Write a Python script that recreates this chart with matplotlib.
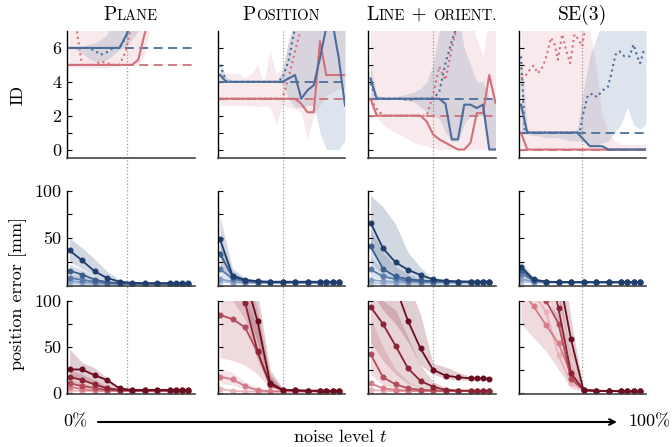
import matplotlib

matplotlib.use('Agg')

from matplotlib import pyplot as plt
from matplotlib import transforms

plt.rcParams['font.family'] = 'cmr10'
plt.rcParams['mathtext.fontset'] = 'cm'
plt.rcParams['axes.formatter.use_mathtext'] = True

##### Data #####
# noise levels used for the ID curves (top row)
t_top = [0.0, 0.05, 0.1, 0.15, 0.2, 0.25, 0.3, 0.35, 0.4, 0.45, 0.5,
         0.55, 0.6, 0.65, 0.7, 0.75, 0.8, 0.85, 0.9, 0.95, 1.0]
# noise levels used for the position error curves
t_err = [0.0, 0.1, 0.2, 0.3, 0.4, 0.5, 0.6, 0.7, 0.8, 0.85, 0.9, 0.95]

vline_t = [0.46, 0.5, 0.5, 0.49]

# true ID (dashed): blue, red
plane_true = [6, 5]
pos_true = [4, 3]
line_true = [3, 2]
se3_true = [1, 0]

plane_blue_med = [6, 6, 6, 6, 6, 6, 6, 6, 6, 6.7, 7.5, 8, 8, 8, 8, 8, 8, 8, 8, 8, 8]
plane_blue_dot = [6, 6, 6, 6, 5.85, 5.6, 5.75, 6, 6, 6.6, 7.8, 8, 8, 8, 8, 8, 8, 8, 8, 8, 8]
plane_red_med = [5, 5, 5, 5, 5, 5, 5, 5, 5, 5, 5, 5.3, 6.8, 8, 8, 8, 8, 8, 8, 8, 8]
plane_red_dot = [9, 7.4, 5, 5, 5, 5.2, 5.1, 5, 5, 5.8, 7.5, 8, 8, 8, 8, 8, 8, 8, 8, 8, 8]
plane_blue_lo = [6, 5.9, 5.7, 5.4, 5.2, 5.2, 5.3, 5.6, 5.9, 6.1, 6.5, 7, 7.5, 8, 8, 8, 8, 8, 8, 8, 8]
plane_blue_hi = [6.1, 6.1, 6.1, 6.2, 6.3, 6.5, 6.8, 7.5, 8, 8, 8, 8, 8, 8, 8, 8, 8, 8, 8, 8, 8]
plane_red_lo = [4.9, 4.9, 4.8, 4.8, 4.8, 4.8, 4.8, 4.9, 4.9, 5, 5, 5, 5.5, 7.5, 8, 8, 8, 8, 8, 8, 8]
plane_red_hi = [8, 8, 8, 8, 8, 8, 8, 8, 8, 8, 8, 8, 8, 8, 8, 8, 8, 8, 8, 8, 8]

pos_blue_med = [4.4, 4, 4, 4, 4, 4, 4, 4, 4, 4, 4, 4.2, 4.4, 3.0, 3.5, 3.8, 5.4, 7.2, 7.5, 5.4, 2.6]
pos_blue_dot = [5.0, 4, 4, 4, 4, 4, 4, 4, 4, 4, 4.2, 5.3, 7.2, 8, 8, 8, 8, 8, 8, 8, 8]
pos_red_med = [3, 3, 3, 3, 3, 3, 3, 3, 3, 3, 3, 3, 3, 2.7, 2.2, 2.2, 6.4, 4.4, 4.4, 4.4, 4.4]
pos_red_dot = [3, 3, 3, 3, 3, 3, 3, 3, 3, 3, 3.0, 4.3, 5.8, 7.2, 8, 8, 8, 8, 8, 8, 8]
pos_blue_lo = [4, 4, 4, 4, 4, 4, 4, 4, 4, 4, 3.9, 3.0, 2.5, 2.5, 2.6, 2.6, 1.0, 0, 0, 0, 0.5]
pos_blue_hi = [5.2, 4.3, 4, 4, 4, 4, 4, 4, 4, 4, 4.6, 6.5, 7.5, 8, 8, 8, 8, 8, 8, 8, 8]
pos_red_lo = [2.6, 2.6, 2.6, 2.6, 2.6, 2.6, 2.5, 2.6, 2.5, 1.5, 2.6, 2.5, 2.4, 2.2, 0.6, 2.0, 2.6, 3.2, 3.4, 3.6, 3.6]
pos_red_hi = [4.6, 4.5, 4.5, 4.5, 4.2, 4.5, 5.0, 4.0, 5.8, 4.5, 4.8, 6.5, 7.5, 8, 8, 8, 8, 8, 8, 8, 8]

line_blue_med = [4.2, 3, 3, 3, 3, 3, 3, 3, 3, 3, 3, 3, 2.7, 0.6, 0.6, 2.65, 2.65, 2.45, 2.65, 0, 0]
line_blue_dot = [3.9, 3, 3, 3, 3, 3, 2.9, 3, 3, 3, 3, 3.4, 5.1, 6.4, 7.5, 8, 8, 8, 8, 8, 8]
line_red_med = [3, 2, 2, 2, 2, 2, 2, 2, 2, 1.65, 0.9, 0.6, 0.4, 0.2, 0, 0, 0.4, 2.15, 2.15, 4.4, 2.75]
line_red_dot = [3, 2.4, 2, 2, 2, 2, 2, 2, 2, 2, 3.2, 4.9, 4.1, 6.0, 7.5, 8, 8, 8, 8, 8, 8]
line_blue_lo = [3, 3, 3, 3, 3, 3, 2.9, 2.8, 2.5, 2.2, 2, 1.8, 1, 0.5, 0.5, 1.5, 2, 2, 2, 0, 0]
line_blue_hi = [5, 3.2, 3.1, 3.1, 3.1, 3.2, 3.3, 3.4, 3.6, 4, 5, 7, 8, 8, 8, 6, 5, 4, 4, 3, 3]
line_red_lo = [2.5, 1.9, 1.5, 1.2, 1, 0.8, 0.6, 0.4, 0.3, 0.2, 0.1, 0, 0, 0, 0, 0, 0, 0, 0, 0, 0]
line_red_hi = [8, 8, 8, 8, 8, 8, 8, 8, 8, 8, 8, 8, 7.5, 7, 7, 7.5, 8, 6.5, 5.5, 8, 8]

se3_blue_med = [2.65, 1, 1, 1, 1, 1, 1, 1, 1, 1, 0.6, 0.2, 0.2, 0.2, 0, 0, 0, 0, 0, 0, 0]
se3_red_med = [1, 0, 0, 0, 0, 0, 0, 0, 0, 0, 0, 0, 0, 0, 0, 0, 0, 0, 0, 0, 0]
se3_blue_lo = [1, 0.9, 0.8, 0.8, 0.7, 0.7, 0.7, 0.6, 0.5, 0.5, 0.5, 0.3, 0.2, 0.4, 0.5, 1, 1.5, 2.5, 1.5, 1.2, 1.5]
se3_blue_hi = [5.8, 1.2, 1.1, 1.1, 1.1, 1.1, 1.1, 1.1, 1.1, 1.2, 3.5, 5.5, 6.5, 7.5, 8, 8, 8, 8, 8, 8, 8]
se3_red_lo = [0, 0, 0, 0, 0, 0, 0, 0, 0, 0, 0, 0, 0, 0, 0, 0, 0, 0, 0, 0, 0]
se3_red_hi = [8, 8, 8, 8, 8, 8, 8, 8, 8, 8, 8, 7, 5, 2, 1, 0.5, 0.3, 0.3, 0.3, 0.3, 0.3]
se3_blue_dot_t = [0.0, 0.03, 0.05, 0.47, 0.495, 0.535, 0.575, 0.607, 0.655, 0.695,
                  0.72, 0.756, 0.788, 0.828, 0.868, 0.9, 0.935, 0.953, 0.988]
se3_blue_dot = [5.5, 1.1, 1.0, 1.0, 2.05, 3.2, 3.3, 3.1, 3.5, 3.7,
                4.4, 5.6, 5.8, 5.5, 5.5, 6.2, 5.4, 5.1, 6.0]
se3_red_dot_t = [0.0, 0.03, 0.07, 0.1, 0.135, 0.175, 0.207, 0.24, 0.27, 0.295, 0.33, 0.36,
                 0.393, 0.428, 0.46, 0.49, 0.516, 0.6, 0.85, 0.89, 0.92, 0.95, 1.0]
se3_red_dot = [4.2, 4.3, 4.7, 4.95, 4.5, 4.9, 5.6, 6.6, 6.2, 5.3, 6.8, 5.9,
               5.1, 6.8, 6.5, 6.1, 7.3, 8, 8, 7.0, 7.2, 8, 8]

# position error [mm], darkest series first (blue = middle row, red = bottom row)
plane_err_blue = [[37, 26.5, 15, 8, 4, 2.8, 2.5, 2.5, 2.5, 2.5, 2.5, 2.5],
                  [15.7, 11.5, 6.3, 3.5, 2.5, 2, 2, 2, 2, 2, 2, 2],
                  [8, 6, 4, 2.5, 2, 1.8, 1.8, 1.8, 1.8, 1.8, 1.8, 1.8],
                  [5, 3.5, 2.5, 2, 1.5, 1.5, 1.5, 1.5, 1.5, 1.5, 1.5, 1.5],
                  [2.5, 2, 1.5, 1.2, 1, 1, 1, 1, 1, 1, 1, 1]]
plane_err_blue_lo = [[25, 18, 10, 5, 3, 2, 2, 2, 2, 2, 2, 2],
                     [10, 7, 4, 2, 2, 1.5, 1.5, 1.5, 1.5, 1.5, 1.5, 1.5],
                     [5, 4, 2.5, 1.8, 1.5, 1.2, 1.2, 1.2, 1.2, 1.2, 1.2, 1.2]]
plane_err_blue_hi = [[50, 40, 28, 15, 6, 3.5, 3, 3, 3, 3, 3, 3],
                     [22, 17, 10, 5, 3, 2.5, 2.5, 2.5, 2.5, 2.5, 2.5, 2.5],
                     [12, 9, 6, 3.5, 2.5, 2.2, 2.2, 2.2, 2.2, 2.2, 2.2, 2.2]]

pos_err_blue = [[49, 10.5, 6, 4.5, 4, 4, 4, 4, 4, 4, 4, 4],
                [33.5, 9, 5, 4, 3.5, 3.5, 3.5, 3.5, 3.5, 3.5, 3.5, 3.5],
                [17.5, 7, 4.5, 3.5, 3.2, 3.2, 3.2, 3.2, 3.2, 3.2, 3.2, 3.2],
                [7, 4, 3, 3, 3, 3, 3, 3, 3, 3, 3, 3],
                [4, 3, 2.5, 2.5, 2.5, 2.5, 2.5, 2.5, 2.5, 2.5, 2.5, 2.5]]
pos_err_blue_lo = [[30, 6, 4.5, 3.8, 3.5, 3.5, 3.5, 3.5, 3.5, 3.5, 3.5, 3.5],
                   [20, 6, 4, 3.5, 3, 3, 3, 3, 3, 3, 3, 3],
                   [10, 5, 3.5, 3, 2.8, 2.8, 2.8, 2.8, 2.8, 2.8, 2.8, 2.8]]
pos_err_blue_hi = [[72, 18, 8, 6, 5, 5, 5, 5, 5, 5, 5, 5],
                   [48, 14, 7, 5, 4.2, 4.2, 4.2, 4.2, 4.2, 4.2, 4.2, 4.2],
                   [26, 10, 6, 4.2, 3.8, 3.8, 3.8, 3.8, 3.8, 3.8, 3.8, 3.8]]

line_err_blue = [[66.4, 39.2, 24.4, 16.6, 11, 6.4, 5, 4.2, 4, 4, 4, 4],
                 [41.3, 17.7, 9.5, 6.7, 5.3, 4.5, 4.2, 4, 4, 4, 4, 4],
                 [17, 9.5, 6.7, 5, 4.2, 4, 4, 4, 4, 4, 4, 4],
                 [6, 4.5, 3.8, 3.5, 3.5, 3.5, 3.5, 3.5, 3.5, 3.5, 3.5, 3.5],
                 [2.5, 2.2, 2, 2, 2, 2, 2, 2, 2, 2, 2, 2]]
line_err_blue_lo = [[40, 20, 12, 8, 6, 5, 4.5, 3.8, 3.6, 3.6, 3.6, 3.6],
                    [25, 10, 6, 5, 4.5, 4, 3.8, 3.6, 3.6, 3.6, 3.6, 3.6],
                    [9, 6, 4.5, 4, 3.6, 3.5, 3.5, 3.5, 3.5, 3.5, 3.5, 3.5]]
line_err_blue_hi = [[95, 83, 65, 35, 19, 7, 5.5, 5, 5, 5, 5, 5],
                    [60, 35, 20, 12, 7, 5.5, 5, 4.5, 4.5, 4.5, 4.5, 4.5],
                    [30, 16, 10, 7, 5, 4.5, 4.5, 4.5, 4.5, 4.5, 4.5, 4.5]]

se3_err_blue = [[20, 6.4, 4.2, 3.5, 3.5, 3.5, 3.5, 3.5, 3.5, 3.5, 3.5, 3.5],
                [16.6, 5.5, 4, 3.5, 3.5, 3.5, 3.5, 3.5, 3.5, 3.5, 3.5, 3.5],
                [12.4, 5, 3.8, 3.5, 3.5, 3.5, 3.5, 3.5, 3.5, 3.5, 3.5, 3.5],
                [7, 4, 3.5, 3.5, 3.5, 3.5, 3.5, 3.5, 3.5, 3.5, 3.5, 3.5],
                [4, 3, 3, 3, 3, 3, 3, 3, 3, 3, 3, 3]]
se3_err_blue_lo = [[14, 5, 3.5, 3, 3, 3, 3, 3, 3, 3, 3, 3],
                   [11, 4.5, 3.5, 3, 3, 3, 3, 3, 3, 3, 3, 3],
                   [8, 4, 3.2, 3, 3, 3, 3, 3, 3, 3, 3, 3]]
se3_err_blue_hi = [[26, 8, 5, 4, 4, 4, 4, 4, 4, 4, 4, 4],
                   [22, 7, 4.6, 4, 4, 4, 4, 4, 4, 4, 4, 4],
                   [17, 6, 4.3, 4, 4, 4, 4, 4, 4, 4, 4, 4]]

plane_err_red = [[25.2, 25.2, 19, 13.7, 4.7, 2.9, 3, 3, 3, 3, 3, 3],
                 [17.3, 13.7, 9, 4.7, 3, 2.5, 2.5, 2.5, 2.5, 2.5, 2.5, 2.5],
                 [10, 7.2, 5, 3, 2.5, 2, 2, 2, 2, 2, 2, 2],
                 [6.5, 3.6, 2.5, 2, 1.8, 1.8, 1.8, 1.8, 1.8, 1.8, 1.8, 1.8],
                 [2.5, 1.8, 1.5, 1.5, 1.5, 1.5, 1.5, 1.5, 1.5, 1.5, 1.5, 1.5]]
plane_err_red_lo = [[15, 14, 10, 6, 3, 2.5, 2.5, 2.5, 2.5, 2.5, 2.5, 2.5],
                    [10, 8, 5, 3, 2.5, 2, 2, 2, 2, 2, 2, 2],
                    [5, 4, 3, 2, 2, 1.5, 1.5, 1.5, 1.5, 1.5, 1.5, 1.5]]
plane_err_red_hi = [[47.5, 33, 27, 16, 5, 3.5, 3.5, 3.5, 3.5, 3.5, 3.5, 3.5],
                    [25, 20, 14, 7, 3.5, 3, 3, 3, 3, 3, 3, 3],
                    [15, 11, 7, 4, 3, 2.5, 2.5, 2.5, 2.5, 2.5, 2.5, 2.5]]

pos_err_red = [[170, 150, 125, 78, 11, 3, 2.5, 2, 2, 2, 2, 2],
               [150, 130, 98, 45, 9, 3, 2.5, 2, 2, 2, 2, 2],
               [84.5, 80, 71, 44, 8, 3, 2, 2, 2, 2, 2, 2],
               [17.3, 14.4, 7.2, 2.5, 1.5, 1.5, 1.5, 1.5, 1.5, 1.5, 1.5, 1.5],
               [4.3, 1.8, 1.2, 1, 1, 1, 1, 1, 1, 1, 1, 1]]
pos_err_red_lo = [[120, 110, 95, 55, 7, 2.5, 2, 1.8, 1.8, 1.8, 1.8, 1.8],
                  [110, 100, 80, 35, 6, 2.5, 2, 1.8, 1.8, 1.8, 1.8, 1.8],
                  [38, 35, 30, 20, 5, 2, 1.8, 1.8, 1.8, 1.8, 1.8, 1.8],
                  [10, 8, 4, 1.5, 1, 1, 1, 1, 1, 1, 1, 1]]
pos_err_red_hi = [[200, 190, 160, 110, 25, 5, 3, 2.5, 2.5, 2.5, 2.5, 2.5],
                  [200, 180, 140, 90, 20, 4, 3, 2.5, 2.5, 2.5, 2.5, 2.5],
                  [120, 110, 100, 75, 18, 4, 2.5, 2.5, 2.5, 2.5, 2.5, 2.5],
                  [26, 22, 12, 5, 2, 2, 2, 2, 2, 2, 2, 2]]

line_err_red = [[150, 130, 115, 78, 48, 25, 18.5, 16.7, 15.6, 15.6, 15.6, 15.2],
                [93.5, 74.6, 51, 26.4, 12.7, 6.5, 3, 2.2, 2, 2, 2, 2],
                [42, 16.7, 9, 4.7, 3, 2.5, 2, 2, 2, 2, 2, 2],
                [10, 4.7, 3, 2, 1.8, 1.8, 1.8, 1.8, 1.8, 1.8, 1.8, 1.8],
                [3, 2, 1.5, 1.5, 1.5, 1.5, 1.5, 1.5, 1.5, 1.5, 1.5, 1.5]]
line_err_red_lo = [[110, 90, 75, 55, 30, 20, 15, 14, 13, 13, 13, 13],
                   [55, 35, 20, 10, 5, 3, 2, 1.8, 1.8, 1.8, 1.8, 1.8],
                   [20, 8, 4, 2, 1.8, 1.8, 1.8, 1.8, 1.8, 1.8, 1.8, 1.8]]
line_err_red_hi = [[200, 200, 160, 120, 85, 32, 28, 22, 18, 17, 16, 16],
                   [130, 100, 90, 60, 30, 12, 6, 3, 2.5, 2.5, 2.5, 2.5],
                   [80, 50, 25, 12, 5, 3, 2.5, 2.5, 2.5, 2.5, 2.5, 2.5]]

se3_err_red = [[250, 220, 190, 130, 58, 2.5, 2, 1.8, 1.5, 1.5, 1.5, 1.5],
               [200, 180, 150, 91.6, 21, 3, 2, 1.8, 1.5, 1.5, 1.5, 1.5],
               [150, 130, 100, 75, 15, 3, 2, 1.8, 1.5, 1.5, 1.5, 1.5],
               [112, 94, 73.5, 53.6, 20, 3, 2, 1.8, 1.5, 1.5, 1.5, 1.5],
               [125, 108, 88, 41, 10, 3, 2, 1.8, 1.5, 1.5, 1.5, 1.5]]
se3_err_red_lo = [[200, 180, 150, 100, 40, 2, 1.8, 1.5, 1.2, 1.2, 1.2, 1.2],
                  [160, 140, 110, 70, 12, 2.5, 1.8, 1.5, 1.2, 1.2, 1.2, 1.2],
                  [75, 60, 45, 25, 5, 1.5, 1.5, 1.5, 1.2, 1.2, 1.2, 1.2]]
se3_err_red_hi = [[300, 260, 230, 170, 80, 3.5, 2.5, 2, 2, 2, 2, 2],
                  [240, 220, 190, 120, 35, 4, 2.5, 2, 2, 2, 2, 2],
                  [130, 115, 100, 85, 45, 4, 2.5, 2, 2, 2, 2, 2]]

titles = [[('P', 14), ('LANE', 10.5)],
          [('P', 14), ('OSITION', 10.5)],
          [('L', 14), ('INE', 10.5), (' + ', 14), ('ORIENT.', 10.5)],
          [('SE(3)', 14)]]

blue = '#4a6d9c'
red = '#d0707b'
blues = ['#1f3e6d', '#3b5e8f', '#5b7cab', '#86a0c6', '#b3c4dd']
reds = ['#6b0e1f', '#8c2334', '#b24c5b', '#d47c88', '#ecb0b8']

##### Figure #####
fig = plt.figure(figsize=(6.72, 4.47), dpi=100)

W, H = 672.0, 447.0
lefts = [67, 217.5, 368, 518.5]
ax_w = 127.5
rows = [(31, 158), (190.7, 285.5), (300.7, 394)]

axes = []
for r, (top, bot) in enumerate(rows):
    row = []
    for c, left in enumerate(lefts):
        ax = fig.add_axes([left / W, 1 - bot / H, ax_w / W, (bot - top) / H])
        ax.set_xlim(-0.02, 1.0)
        ax.spines['top'].set_visible(False)
        ax.spines['right'].set_visible(False)
        ax.spines['left'].set_linewidth(1.0)
        ax.spines['bottom'].set_linewidth(1.2)
        ax.spines['bottom'].set_color('#444444')
        ax.set_xticks([])
        ax.tick_params(axis='y', direction='in', length=3.5, width=0.8, labelsize=13, pad=4)
        row.append(ax)
    axes.append(row)

id_panels = [
    (plane_true, plane_blue_med, plane_blue_dot, plane_red_med, plane_red_dot,
     plane_blue_lo, plane_blue_hi, plane_red_lo, plane_red_hi),
    (pos_true, pos_blue_med, pos_blue_dot, pos_red_med, pos_red_dot,
     pos_blue_lo, pos_blue_hi, pos_red_lo, pos_red_hi),
    (line_true, line_blue_med, line_blue_dot, line_red_med, line_red_dot,
     line_blue_lo, line_blue_hi, line_red_lo, line_red_hi),
    (se3_true, se3_blue_med, None, se3_red_med, None,
     se3_blue_lo, se3_blue_hi, se3_red_lo, se3_red_hi),
]

for c, (true, bmed, bdot, rmed, rdot, blo, bhi, rlo, rhi) in enumerate(id_panels):
    ax = axes[0][c]
    ax.fill_between(t_top, rlo, rhi, color=red, alpha=0.14, lw=0)
    ax.fill_between(t_top, blo, bhi, color=blue, alpha=0.18, lw=0)
    ax.axhline(true[0], color=blue, ls=(0, (5, 3)), lw=1.3)
    ax.axhline(true[1], color=red, ls=(0, (5, 3)), lw=1.3)
    if c == 3:
        ax.plot(se3_blue_dot_t, se3_blue_dot, color=blue, ls=':', lw=1.5)
        ax.plot(se3_red_dot_t, se3_red_dot, color=red, ls=':', lw=1.5)
    else:
        ax.plot(t_top, bdot, color=blue, ls=':', lw=1.5)
        ax.plot(t_top, rdot, color=red, ls=':', lw=1.5)
    ax.plot(t_top, rmed, color=red, lw=1.5)
    ax.plot(t_top, bmed, color=blue, lw=1.5)
    ax.set_ylim(-0.5, 7)
    ax.set_yticks([0, 1, 2, 3, 4, 5, 6])
    ax.set_yticklabels(['0', '', '2', '', '4', '', '6'] if c == 0 else [])

err_blue = [(plane_err_blue, plane_err_blue_lo, plane_err_blue_hi),
            (pos_err_blue, pos_err_blue_lo, pos_err_blue_hi),
            (line_err_blue, line_err_blue_lo, line_err_blue_hi),
            (se3_err_blue, se3_err_blue_lo, se3_err_blue_hi)]
err_red = [(plane_err_red, plane_err_red_lo, plane_err_red_hi),
           (pos_err_red, pos_err_red_lo, pos_err_red_hi),
           (line_err_red, line_err_red_lo, line_err_red_hi),
           (se3_err_red, se3_err_red_lo, se3_err_red_hi)]

for r, (data, cols) in enumerate([(err_blue, blues), (err_red, reds)]):
    for c, (series, lo, hi) in enumerate(data):
        ax = axes[r + 1][c]
        for i in range(len(lo)):
            ax.fill_between(t_err, lo[i], hi[i], color=cols[i], alpha=0.2, lw=0)
        for i in range(len(series) - 1, -1, -1):
            ax.plot(t_err, series[i], color=cols[i], lw=1.3, marker='o', ms=3.3)
        ax.set_ylim(-1.5 if r == 1 else 0, 100)
        ax.set_yticks([0, 25, 50, 75, 100])
        if c == 0:
            ax.set_yticklabels(['0' if r == 1 else '', '', '50', '', '100'])
        else:
            ax.set_yticklabels([])

# dotted vertical marker through all three rows
for c in range(4):
    gaps = [(rows[1][0] - rows[0][1]) / (rows[0][1] - rows[0][0]),
            (rows[2][0] - rows[1][1]) / (rows[1][1] - rows[1][0]),
            0]
    for r in range(3):
        axes[r][c].axvline(vline_t[c], ymin=-gaps[r], ymax=1, color='#999999', ls=':',
                           lw=0.9, clip_on=False, zorder=0.5)

# titles in small caps
renderer = fig.canvas.get_renderer()
for c, parts in enumerate(titles):
    ax = axes[0][c]
    widths = []
    for s, size in parts:
        t = fig.text(0, 0, s, fontsize=size)
        widths.append(t.get_window_extent(renderer).width)
        t.remove()
    x0 = -sum(widths) / 2
    for (s, size), w in zip(parts, widths):
        tr = transforms.offset_copy(ax.transAxes, fig=fig, x=x0, y=0, units='dots')
        ax.text(0.5, 1.087, s, fontsize=size, transform=tr, ha='left', va='baseline')
        x0 += w

fig.text(18 / W, 1 - 94.5 / H, 'ID', rotation=90, ha='center', va='center', fontsize=13)
fig.text(18 / W, 1 - 293 / H, 'position error [mm]', rotation=90, ha='center', va='center', fontsize=13)

# noise level arrow
fig.text(75 / W, 1 - 422 / H, '0%', ha='center', va='center', fontsize=13)
fig.text(650 / W, 1 - 422 / H, '100%', ha='center', va='center', fontsize=13)
fig.text(340 / W, 1 - 437 / H, 'noise level $t$', ha='center', va='center', fontsize=13)
plt.annotate('', xy=(617 / W, 1 - 422 / H), xytext=(98 / W, 1 - 422 / H),
             xycoords='figure fraction', textcoords='figure fraction',
             arrowprops=dict(arrowstyle='->', lw=1.5, color='black', shrinkA=0, shrinkB=0))

plt.savefig('out.png', dpi=100)
